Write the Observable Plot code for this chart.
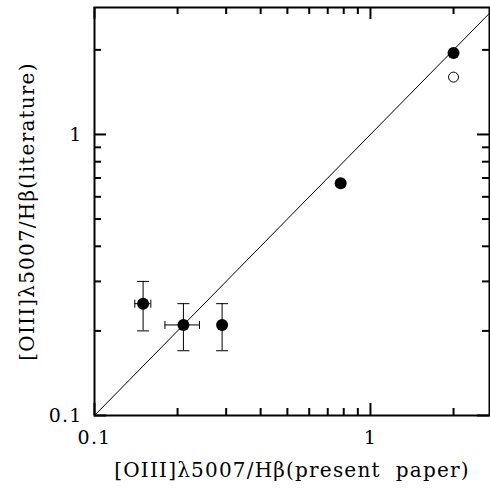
<!DOCTYPE html>
<html>
<head>
<meta charset="utf-8">
<script src="https://cdn.jsdelivr.net/npm/d3@7"></script>
<script src="https://cdn.jsdelivr.net/npm/@observablehq/plot@0.6"></script>
<style>
  html, body { margin: 0; padding: 0; background: #fff; }
  svg { display: block; }
</style>
</head>
<body>
<div id="chart"></div>
<script>
// Data
const xPresent = [0.15, 0.21, 0.29, 0.78, 2.0];
const yLit = [0.25, 0.21, 0.21, 0.67, 1.95];
const yLo = [0.2, 0.17, 0.17, null, null];
const yHi = [0.3, 0.25, 0.25, null, null];
const xLo = [0.14, 0.18, null, null, null];
const xHi = [0.16, 0.24, null, null, null];
const openX = [2.0];
const openY = [1.6];
const majorTicks = [0.1, 1];
const xMinorTicks = [0.2, 0.3, 0.4, 0.5, 0.6, 0.7, 0.8, 0.9, 2];
const yMinorTicks = [0.2, 0.3, 0.4, 0.5, 0.6, 0.7, 0.8, 0.9, 2];
const diagonal = [0.1, 3];
const xTitle = "[OIII]λ5007/Hβ(present\u00a0 paper)";
const yTitle = "[OIII]λ5007/Hβ(literature)";

const pts = xPresent.map((x, i) => ({x, y: yLit[i], ylo: yLo[i], yhi: yHi[i], xlo: xLo[i], xhi: xHi[i]}));
const yErr = pts.filter(d => d.ylo != null);
const xErr = pts.filter(d => d.xlo != null);
const openPts = openX.map((x, i) => ({x, y: openY[i]}));

const W = 490, H = 489;
const mL = 94, mR = 1, mT = 7, mB = 74;
const fw = W - mL - mR, fh = H - mT - mB;
const MAJ = 12, MIN = 7;

const hCap = {draw(ctx, size) { const r = Math.sqrt(size / Math.PI); ctx.moveTo(-r, 0); ctx.lineTo(r, 0); }};
const vCap = {draw(ctx, size) { const r = Math.sqrt(size / Math.PI); ctx.moveTo(0, -r); ctx.lineTo(0, r); }};

const font = "'DejaVu Serif', 'Liberation Serif', serif";

const chart = Plot.plot({
  width: W, height: H,
  marginLeft: mL, marginRight: mR, marginTop: mT, marginBottom: mB,
  style: {fontFamily: font, background: "#fff", color: "#000", letterSpacing: "1.2px"},
  x: {type: "log", domain: [0.1, 2.7], axis: null},
  y: {type: "log", domain: [0.1, 2.83], axis: null},
  marks: [
    // diagonal y = x
    Plot.line(diagonal.map(v => ({x: v, y: v})), {x: "x", y: "y", stroke: "#000", strokeWidth: 1, clip: true}),
    // ticks bottom
    Plot.ruleX(majorTicks, {x: d => d, insetTop: fh - MAJ, strokeWidth: 2}),
    Plot.ruleX(xMinorTicks, {x: d => d, insetTop: fh - MIN, strokeWidth: 2}),
    // ticks top
    Plot.ruleX(majorTicks, {x: d => d, insetBottom: fh - MAJ, strokeWidth: 2}),
    Plot.ruleX(xMinorTicks, {x: d => d, insetBottom: fh - MIN, strokeWidth: 2}),
    // ticks left
    Plot.ruleY(majorTicks, {y: d => d, insetRight: fw - MAJ, strokeWidth: 2}),
    Plot.ruleY(yMinorTicks, {y: d => d, insetRight: fw - MIN, strokeWidth: 2}),
    // ticks right
    Plot.ruleY(majorTicks, {y: d => d, insetLeft: fw - MAJ, strokeWidth: 2}),
    Plot.ruleY(yMinorTicks, {y: d => d, insetLeft: fw - MIN, strokeWidth: 2}),
    Plot.frame({stroke: "#000", strokeWidth: 2}),
    // tick labels
    Plot.text(majorTicks, {x: d => d, frameAnchor: "bottom", lineAnchor: "middle", dy: 22, text: d => String(d), fontSize: 19, fontFamily: font, fill: "#000"}),
    Plot.text(majorTicks, {y: d => d, frameAnchor: "left", dx: -12, textAnchor: "end", text: d => String(d), fontSize: 19, fontFamily: font, fill: "#000"}),
    // error bars
    Plot.ruleX(yErr, {x: "x", y1: "ylo", y2: "yhi", stroke: "#000", strokeWidth: 1}),
    Plot.dot(yErr, {x: "x", y: "ylo", symbol: hCap, r: 6, stroke: "#000", fill: "none", strokeWidth: 1}),
    Plot.dot(yErr, {x: "x", y: "yhi", symbol: hCap, r: 6, stroke: "#000", fill: "none", strokeWidth: 1}),
    Plot.ruleY(xErr, {y: "y", x1: "xlo", x2: "xhi", stroke: "#000", strokeWidth: 1}),
    Plot.dot(xErr, {x: "xlo", y: "y", symbol: vCap, r: 4, stroke: "#000", fill: "none", strokeWidth: 1}),
    Plot.dot(xErr, {x: "xhi", y: "y", symbol: vCap, r: 4, stroke: "#000", fill: "none", strokeWidth: 1}),
    // points
    Plot.dot(pts, {x: "x", y: "y", r: 6, fill: "#000", stroke: "none"}),
    Plot.dot(openPts, {x: "x", y: "y", r: 5, fill: "none", stroke: "#000", strokeWidth: 1}),
    // axis titles
    Plot.text([xTitle], {frameAnchor: "bottom", lineAnchor: "middle", dy: 55, text: d => d, fontSize: 20, fontFamily: font, fill: "#000"}),
    Plot.text([yTitle], {frameAnchor: "left", textAnchor: "middle", lineAnchor: "middle", dx: -67, rotate: -90, text: d => d, fontSize: 20, fontFamily: font, fill: "#000"})
  ]
});
document.getElementById("chart").appendChild(chart);
</script>
</body>
</html>
